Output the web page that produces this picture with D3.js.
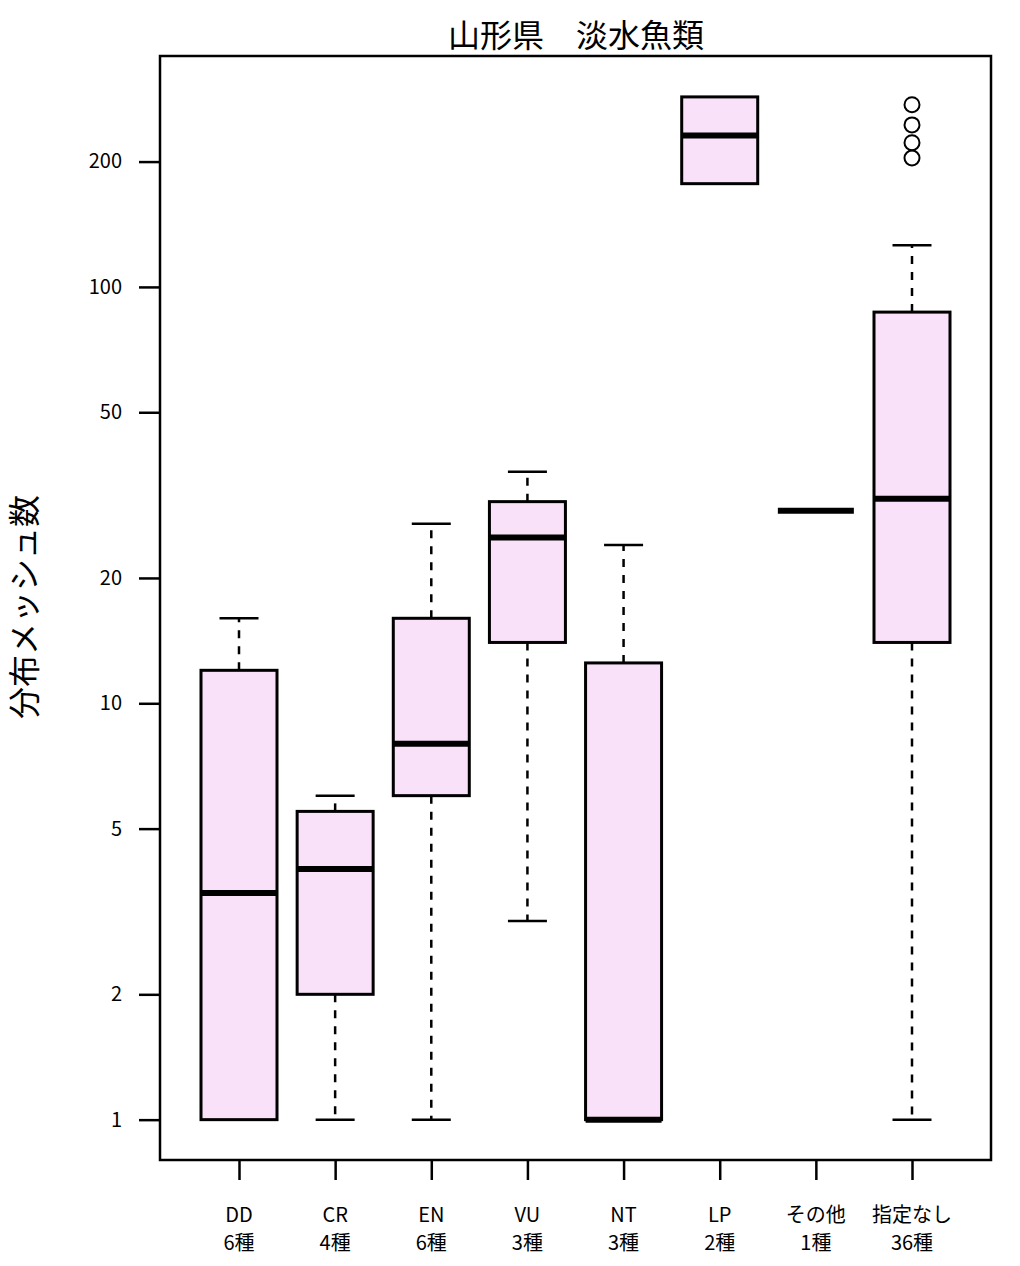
<!DOCTYPE html>
<html><head><meta charset="utf-8">
<script src="https://cdn.jsdelivr.net/npm/d3@7"></script>
<style>body{margin:0;background:#fff}</style>
</head><body>
<svg id="c" width="1020" height="1266"></svg>
<script>
const categories = ["DD","CR","EN","VU","NT","LP","その他","指定なし"];
const counts = ["6種","4種","6種","3種","3種","2種","1種","36種"];
const whiskerLow = [1, 1, 1, 3, 1, 177, 29, 1];
const q1 =        [1, 2, 6, 14, 1, 177, 29, 14];
const medians =   [3.5, 4, 8, 25, 1, 231, 29, 31];
const q3 =        [12, 5.5, 16, 30.5, 12.5, 286, 29, 87];
const whiskerHigh=[16, 6, 27, 36, 24, 286, 29, 126];
const outliers =  [[],[],[],[],[],[],[],[204, 222, 245, 274]];
const yTicks = [1, 2, 5, 10, 20, 50, 100, 200];

const svg = d3.select("#c");
const L = 160, R = 991, T = 56, B = 1160;
const y = d3.scaleLog().domain([0.8, 358.6]).range([B, T]);
const x = d3.scalePoint().domain(categories).range([239, 912]);
const cx = c => x(c);
const bw = 76;
const font = "'Noto Sans CJK JP',sans-serif";

svg.append("rect").attr("x", L).attr("y", T).attr("width", R-L).attr("height", B-T)
  .attr("fill","none").attr("stroke","#000").attr("stroke-width",2.5);

const g = svg.append("g");
categories.forEach((c, i) => {
  const xc = cx(c);
  [[q1[i], whiskerLow[i]], [q3[i], whiskerHigh[i]]].forEach(([a, b]) => {
    if (a !== b) {
      g.append("line").attr("x1", xc).attr("x2", xc).attr("y1", y(a)).attr("y2", y(b))
        .attr("stroke","#000").attr("stroke-width",2.5).attr("stroke-dasharray","8,8");
      g.append("line").attr("x1", xc-19.5).attr("x2", xc+19.5).attr("y1", y(b)).attr("y2", y(b))
        .attr("stroke","#000").attr("stroke-width",2.5);
    }
  });
  if (q1[i] !== q3[i]) {
    g.append("rect").attr("x", xc-bw/2).attr("width", bw).attr("y", y(q3[i])).attr("height", y(q1[i]) - y(q3[i]))
      .attr("fill","#f9e1f9").attr("stroke","#000").attr("stroke-width",3);
  }
  g.append("line").attr("x1", xc-bw/2).attr("x2", xc+bw/2).attr("y1", y(medians[i])).attr("y2", y(medians[i]))
    .attr("stroke","#000").attr("stroke-width",6);
  outliers[i].forEach(v => {
    g.append("circle").attr("cx", xc).attr("cy", y(v)).attr("r", 7.5)
      .attr("fill","none").attr("stroke","#000").attr("stroke-width",2);
  });
});

const yAxis = d3.axisLeft(y).tickValues(yTicks).tickFormat(d3.format("d")).tickSize(21).tickPadding(17);
const ya = svg.append("g").attr("transform", `translate(${L},0)`).call(yAxis);
ya.select(".domain").remove();
ya.selectAll(".tick line").attr("stroke-width",2.5);
ya.selectAll(".tick text").attr("font-family", font)
  .attr("font-size",20).attr("fill","#000");

const xAxis = d3.axisBottom(x).tickSize(20).tickFormat("");
const xa = svg.append("g").attr("transform", `translate(0,${B})`).call(xAxis);
xa.select(".domain").remove();
xa.selectAll(".tick line").attr("stroke-width",2.5);
const lab = svg.append("g").attr("font-family", font).attr("font-size",20).attr("text-anchor","middle").attr("fill","#000");
categories.forEach((c, i) => {
  lab.append("text").attr("x", cx(c)).attr("y", 1222).text(c);
  lab.append("text").attr("x", cx(c)).attr("y", 1250).text(counts[i]);
});

svg.append("text").attr("x", 576).attr("y", 47).attr("text-anchor","middle")
  .attr("font-family", font).attr("font-size",32).text("山形県　淡水魚類");
svg.append("text").attr("transform","translate(36,607) rotate(-90)").attr("text-anchor","middle")
  .attr("font-family", font).attr("font-size",32).text("分布メッシュ数");
</script>
</body></html>
